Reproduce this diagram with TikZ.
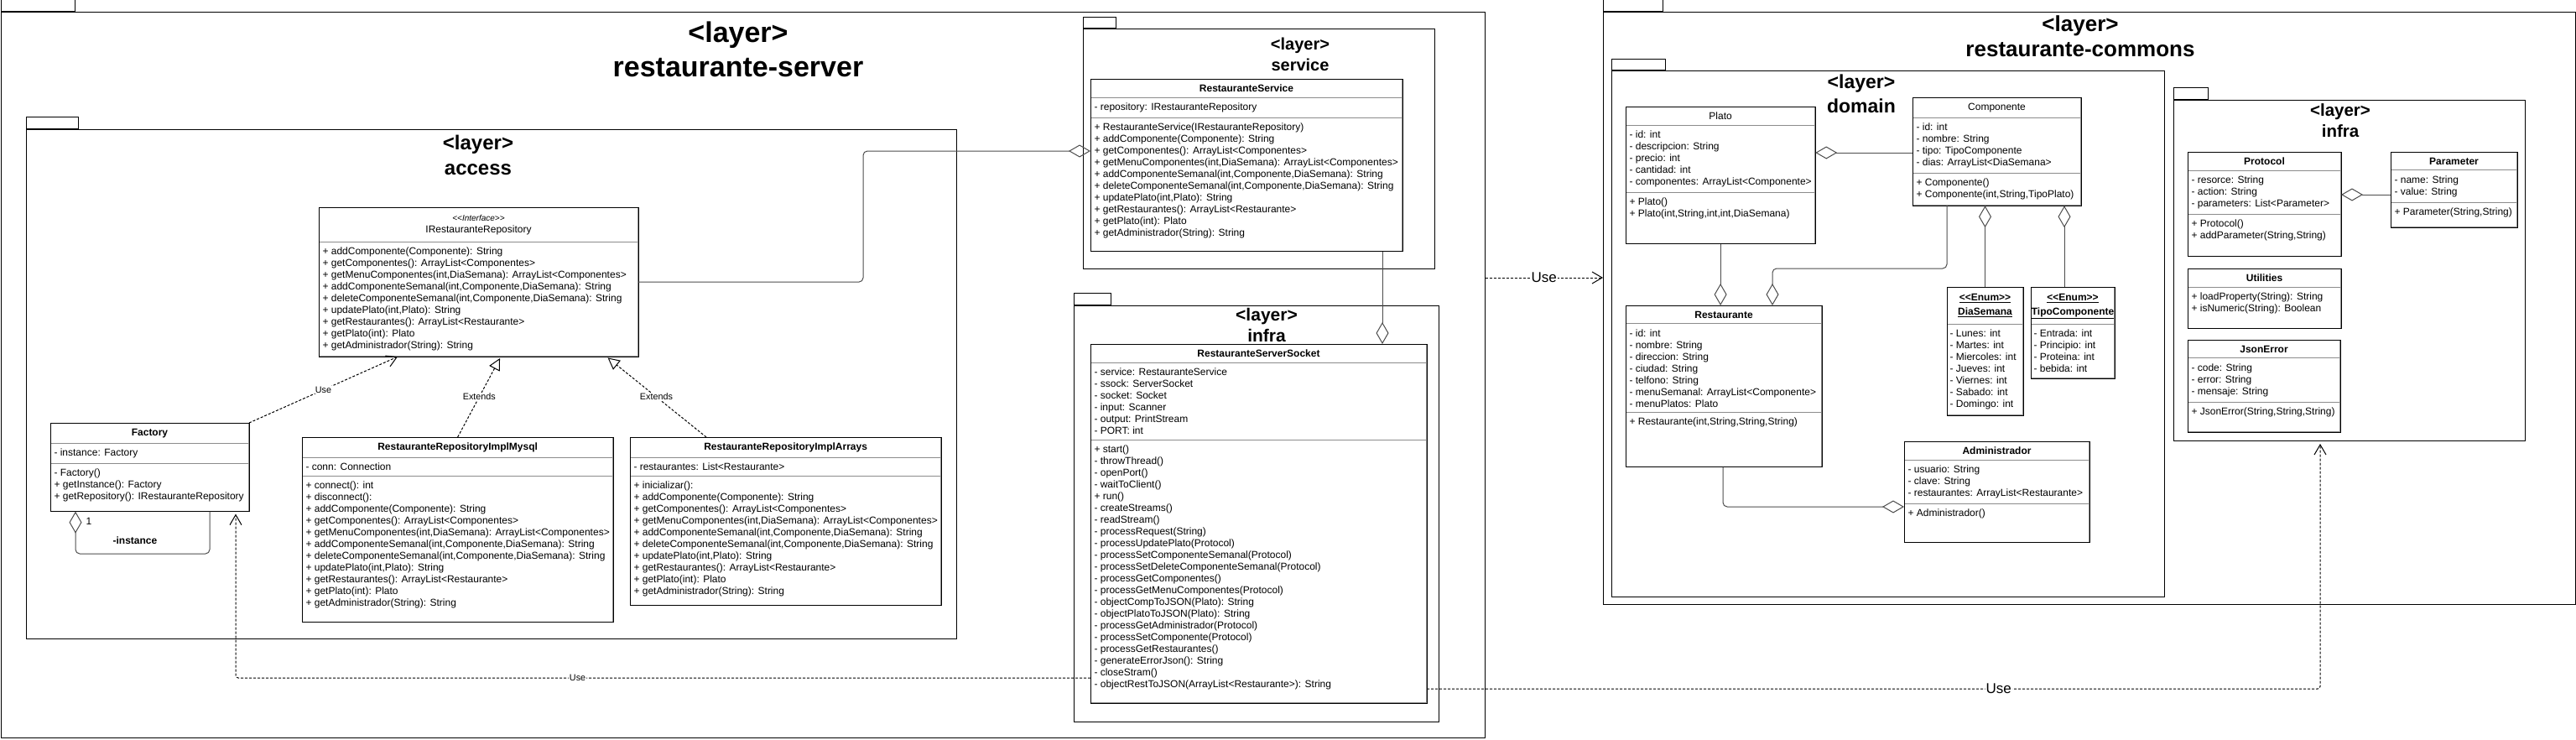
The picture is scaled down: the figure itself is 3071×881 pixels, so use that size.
\documentclass[tikz,border=0pt]{standalone}
\usepackage{fontspec}
\setmainfont{Liberation Sans}
\usetikzlibrary{shapes.multipart, arrows.meta, positioning}
\newcommand{\twoline}[2]{\begin{tabular}{@{}c@{}}#1\\#2\end{tabular}}
\newcommand{\enumhead}[1]{\makebox[80pt]{\bfseries\begin{tabular}{@{}c@{}}\underline{<{}<Enum>{}>}\\[3pt]\underline{#1}\end{tabular}}}
\newcommand{\pad}[1]{\rule[-#1pt]{0pt}{#1pt}}

\begin{document}
\begin{tikzpicture}[x=1pt, y=-1pt, line width=1pt,
  every node/.style={font=\fontsize{12}{14}\selectfont},
  pkg/.style={draw, anchor=north west, inner sep=0pt},
  pkgtab/.style={draw, anchor=south west, minimum height=14, inner sep=0pt},
  pkgtitle/.style={align=center, inner sep=0pt},
  umlclass/.style={rectangle split, rectangle split parts=3, draw=black!45, fill=white, align=left,
    rectangle split part align={center,left,left}, anchor=north west, inner xsep=4pt, inner ysep=6pt},
  umlclass2/.style={umlclass, rectangle split parts=2},
  lbl/.style={fill=white, inner sep=1pt, font=\fontsize{10.8}{13}\selectfont},
  biglbl/.style={lbl, font=\fontsize{17}{20}\selectfont},
  agg/.style={draw=black!70, -{Diamond[open, length=26pt, width=15pt]}},
  useline/.style={dash pattern=on 3pt off 2pt, -{Straight Barb[length=12pt, width=14pt]}},
  extline/.style={dash pattern=on 3pt off 2pt, -{Triangle[open, length=14pt, width=14pt]}}]
\useasboundingbox (0,0) rectangle (3071,881);

\node[pkg, minimum width=1769, minimum height=865] (server) at (0.5,14) {};
\node[pkgtab, minimum width=88] (servertab) at (server.north west) {};
\node[pkgtitle, font=\bfseries\fontsize{34}{41}\selectfont] (servertitle) at (880,59) {<layer>\\restaurante-server};

\node[pkg, minimum width=1109, minimum height=607] (access) at (31,154) {};
\node[pkgtab, minimum width=62] (accesstab) at (access.north west) {};
\node[pkgtitle, font=\bfseries\fontsize{24}{30}\selectfont] (accesstitle) at (570,185) {<layer>\\access};

\node[pkg, minimum width=419, minimum height=286] (service) at (1291,34) {};
\node[pkgtab, minimum width=39, minimum height=13] (servicetab) at (service.north west) {};
\node[pkgtitle, font=\bfseries\fontsize{20}{25}\selectfont] (servicetitle) at (1550,64.5) {<layer>\\service};

\node[pkg, minimum width=435, minimum height=496] (sinfra) at (1280,364) {};
\node[pkgtab, minimum width=44] (sinfratab) at (sinfra.north west) {};
\node[pkgtitle, font=\bfseries\fontsize{21}{25}\selectfont] (sinfratitle) at (1510,387.5) {<layer>\\infra};

\node[pkg, minimum width=1159, minimum height=706] (commons) at (1911,14) {};
\node[pkgtab, minimum width=71] (commonstab) at (commons.north west) {};
\node[pkgtitle, font=\bfseries\fontsize{26}{30}\selectfont] (commonstitle) at (2480,43) {<layer>\\restaurante-commons};

\node[pkg, minimum width=659, minimum height=627] (domain) at (1921,84) {};
\node[pkgtab, minimum width=64, minimum height=13] (domaintab) at (domain.north west) {};
\node[pkgtitle, font=\bfseries\fontsize{23}{29}\selectfont] (domaintitle) at (2219,111.5) {<layer>\\domain};

\node[pkg, minimum width=419, minimum height=406] (cinfra) at (2591,119) {};
\node[pkgtab, minimum width=41] (cinfratab) at (cinfra.north west) {};
\node[pkgtitle, font=\bfseries\fontsize{20.5}{25}\selectfont] (cinfratitle) at (2790,143.5) {<layer>\\infra};

\node[umlclass2, minimum width=380] (irr) at (380,247) {\twoline{\fontsize{10}{12}\selectfont\itshape <{}<Interface>{}>}{IRestauranteRepository}
  \nodepart{second}+ addComponente(Componente): String\\+ getComponentes(): ArrayList<Componentes>\\+ getMenuComponentes(int,DiaSemana): ArrayList<Componentes>\\+ addComponenteSemanal(int,Componente,DiaSemana): String\\+ deleteComponenteSemanal(int,Componente,DiaSemana): String\\+ updatePlato(int,Plato): String\\+ getRestaurantes(): ArrayList<Restaurante>\\+ getPlato(int): Plato\\+ getAdministrador(String): String};
\node[umlclass, minimum width=236] (factory) at (60,504) {\textbf{Factory}
  \nodepart{second}- instance: Factory
  \nodepart{third}- Factory()\\+ getInstance(): Factory\\+ getRepository(): IRestauranteRepository\pad{7}};
\node[umlclass, minimum width=370] (mysql) at (360,521) {\textbf{RestauranteRepositoryImplMysql}
  \nodepart{second}- conn: Connection
  \nodepart{third}+ connect(): int\\+ disconnect():\\+ addComponente(Componente): String\\+ getComponentes(): ArrayList<Componentes>\\+ getMenuComponentes(int,DiaSemana): ArrayList<Componentes>\\+ addComponenteSemanal(int,Componente,DiaSemana): String\\+ deleteComponenteSemanal(int,Componente,DiaSemana): String\\+ updatePlato(int,Plato): String\\+ getRestaurantes(): ArrayList<Restaurante>\\+ getPlato(int): Plato\\+ getAdministrador(String): String\pad{12}};
\node[umlclass, minimum width=369] (arrays) at (751,521) {\textbf{RestauranteRepositoryImplArrays}
  \nodepart{second}- restaurantes: List<Restaurante>
  \nodepart{third}+ inicializar():\\+ addComponente(Componente): String\\+ getComponentes(): ArrayList<Componentes>\\+ getMenuComponentes(int,DiaSemana): ArrayList<Componentes>\\+ addComponenteSemanal(int,Componente,DiaSemana): String\\+ deleteComponenteSemanal(int,Componente,DiaSemana): String\\+ updatePlato(int,Plato): String\\+ getRestaurantes(): ArrayList<Restaurante>\\+ getPlato(int): Plato\\+ getAdministrador(String): String\pad{6}};
\node[umlclass, minimum width=371] (svc) at (1300,94) {\textbf{RestauranteService}
  \nodepart{second}- repository: IRestauranteRepository
  \nodepart{third}+ RestauranteService(IRestauranteRepository)\\+ addComponente(Componente): String\\+ getComponentes(): ArrayList<Componentes>\\+ getMenuComponentes(int,DiaSemana): ArrayList<Componentes>\\+ addComponenteSemanal(int,Componente,DiaSemana): String\\+ deleteComponenteSemanal(int,Componente,DiaSemana): String\\+ updatePlato(int,Plato): String\\+ getRestaurantes(): ArrayList<Restaurante>\\+ getPlato(int): Plato\\+ getAdministrador(String): String\pad{11}};
\node[umlclass, minimum width=400] (sock) at (1300,410) {\textbf{RestauranteServerSocket}
  \nodepart{second}- service: RestauranteService\\- ssock: ServerSocket\\- socket: Socket\\- input: Scanner\\- output: PrintStream\\- PORT: int
  \nodepart{third}+ start()\\- throwThread()\\- openPort()\\- waitToClient()\\+ run()\\- createStreams()\\- readStream()\\- processRequest(String)\\- processUpdatePlato(Protocol)\\- processSetComponenteSemanal(Protocol)\\- processSetDeleteComponenteSemanal(Protocol)\\- processGetComponentes()\\- processGetMenuComponentes(Protocol)\\- objectCompToJSON(Plato): String\\- objectPlatoToJSON(Plato): String\\- processGetAdministrador(Protocol)\\- processSetComponente(Protocol)\\- processGetRestaurantes()\\- generateErrorJson(): String\\- closeStram()\\- objectRestToJSON(ArrayList<Restaurante>): String\pad{12}};

\node[umlclass, minimum width=225] (plato) at (1938,127) {Plato
  \nodepart{second}- id: int\\- descripcion: String\\- precio: int\\- cantidad: int\\- componentes: ArrayList<Componente>
  \nodepart{third}+ Plato()\\+ Plato(int,String,int,int,DiaSemana)\pad{25}};
\node[umlclass, minimum width=200] (comp) at (2280,116) {Componente
  \nodepart{second}- id: int\\- nombre: String\\- tipo: TipoComponente\\- dias: ArrayList<DiaSemana>
  \nodepart{third}+ Componente()\\+ Componente(int,String,TipoPlato)};
\node[umlclass, minimum width=233] (rest) at (1938,364) {\textbf{Restaurante}
  \nodepart{second}- id: int\\- nombre: String\\- direccion: String\\- ciudad: String\\- telfono: String\\- menuSemanal: ArrayList<Componente>\\- menuPlatos: Plato
  \nodepart{third}+ Restaurante(int,String,String,String)\pad{43}};
\node[umlclass2, minimum width=90, inner xsep=3pt] (dia) at (2321,342) {\enumhead{DiaSemana}
  \nodepart{second}- Lunes: int\\- Martes: int\\- Miercoles: int\\- Jueves: int\\- Viernes: int\\- Sabado: int\\- Domingo: int};
\node[umlclass2, minimum width=99, inner xsep=3pt] (tipo) at (2421,342) {\enumhead{TipoComponente}
  \nodepart{second}- Entrada: int\\- Principio: int\\- Proteina: int\\- bebida: int};
\node[umlclass, minimum width=220] (adm) at (2270,526) {\textbf{Administrador}
  \nodepart{second}- usuario: String\\- clave: String\\- restaurantes: ArrayList<Restaurante>
  \nodepart{third}+ Administrador()\pad{24}};

\node[umlclass, minimum width=182] (proto) at (2608,181) {\textbf{Protocol}
  \nodepart{second}- resorce: String\\- action: String\\- parameters: List<Parameter>
  \nodepart{third}+ Protocol()\\+ addParameter(String,String)\pad{14}};
\node[umlclass, minimum width=150] (param) at (2850,181) {\textbf{Parameter}
  \nodepart{second}- name: String\\- value: String
  \nodepart{third}+ Parameter(String,String)\pad{8}};
\node[umlclass2, minimum width=182] (util) at (2608,320) {\textbf{Utilities}
  \nodepart{second}+ loadProperty(String): String\\+ isNumeric(String): Boolean\pad{13}};
\node[umlclass, minimum width=181] (jerr) at (2608,405) {\textbf{JsonError}
  \nodepart{second}- code: String\\- error: String\\- mensaje: String
  \nodepart{third}+ JsonError(String,String,String)\pad{14}};

\foreach \c in {irr,factory,mysql,arrays,svc,sock,plato,comp,rest,dia,tipo,adm,proto,param,util,jerr}
  \draw (\c.north west) rectangle (\c.south east);

\draw[agg, rounded corners=5pt] (irr.east) -| (1029,180) -- (svc.west |- 0,180);
\draw[agg] (svc.south -| 1648,0) -- (sock.north -| 1648,0);
\draw[useline] (factory.north east) -- node[lbl] {Use} (irr.south -| 474,0);
\draw[extline, shorten >=2pt] (mysql.north) -- node[lbl] {Extends} (irr.south -| 597,0);
\draw[extline, shorten >=2pt] (arrays.north -| 842,0) -- node[lbl] {Extends} (irr.south -| 723,0);
\draw[agg, rounded corners=5pt] (factory.south -| 250,0) |- (90,660) -- (factory.south -| 90,0);
\node (instmult) at (106,621) {1};
\node[font=\bfseries\fontsize{12}{14}\selectfont] (instname) at (161,644) {-instance};
\draw[useline, rounded corners=3pt, shorten >=3pt] (sock.west |- 0,808) -| node[lbl, pos=0.3] {Use} (factory.south -| 281,0);
\draw[useline] (server.east |- 0,331) -- node[biglbl] {Use} (commons.west |- 0,331);
\draw[useline, rounded corners=3pt, shorten >=3pt] (sock.east |- 0,821) -| node[biglbl, pos=0.32] {Use} (cinfra.south -| 2766,0);

\draw[agg] (comp.west |- 0,182) -- (plato.east |- 0,182);
\draw[agg] (plato.south) -- (rest.north -| plato.south);
\draw[agg, rounded corners=5pt] (comp.south -| 2321,0) |- (2113,320) -- (rest.north -| 2113,0);
\draw[agg] (dia.north) -- (comp.south -| dia.north);
\draw[agg] (tipo.north -| 2461,0) -- (comp.south -| 2461,0);
\draw[agg, rounded corners=5pt] (rest.south -| 2054,0) |- (adm.west |- 0,604);
\draw[agg] (param.west |- 0,232) -- (proto.east |- 0,232);
\end{tikzpicture}
\end{document}
